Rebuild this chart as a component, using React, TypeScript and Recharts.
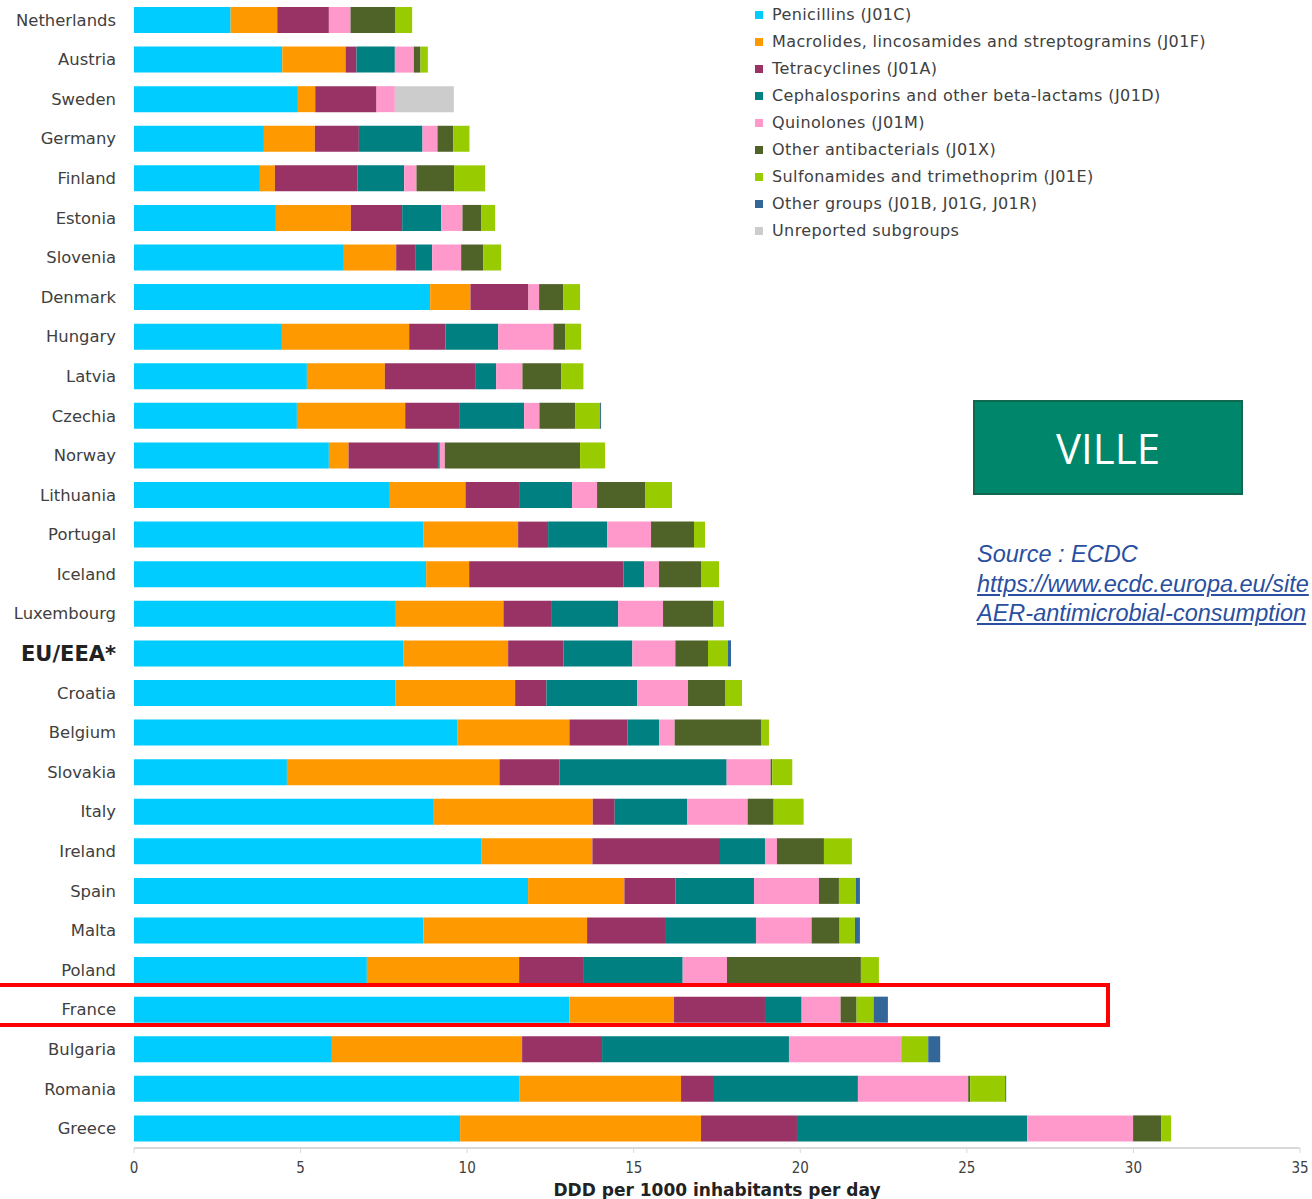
import React from "react";
import { BarChart, Bar, XAxis, YAxis, Legend } from "recharts";

const countries = [
  "Netherlands", "Austria", "Sweden", "Germany", "Finland", "Estonia", "Slovenia",
  "Denmark", "Hungary", "Latvia", "Czechia", "Norway", "Lithuania", "Portugal",
  "Iceland", "Luxembourg", "EU/EEA*", "Croatia", "Belgium", "Slovakia", "Italy",
  "Ireland", "Spain", "Malta", "Poland", "France", "Bulgaria", "Romania", "Greece",
];

const penicillins = [2.9, 4.45, 4.92, 3.9, 3.78, 4.26, 6.3, 8.89, 4.44, 5.19, 4.89, 5.85, 7.68, 8.68, 8.77, 7.86, 8.08, 7.84, 9.7, 4.59, 9.0, 10.42, 11.83, 8.69, 6.99, 13.07, 5.94, 11.56, 9.79];
const macrolides = [1.4, 1.9, 0.52, 1.53, 0.45, 2.25, 1.57, 1.21, 3.82, 2.34, 3.25, 0.59, 2.27, 2.85, 1.29, 3.23, 3.15, 3.6, 3.37, 6.38, 4.77, 3.34, 2.89, 4.91, 4.57, 3.14, 5.71, 4.86, 7.23];
const tetracyclines = [1.55, 0.33, 1.84, 1.32, 2.48, 1.54, 0.57, 1.74, 1.09, 2.71, 1.62, 2.69, 1.61, 0.9, 4.63, 1.43, 1.66, 0.94, 1.74, 1.8, 0.66, 3.83, 1.53, 2.34, 1.92, 2.73, 2.4, 0.96, 2.88];
const cephalosporins = [0, 1.15, 0, 1.91, 1.4, 1.17, 0.51, 0, 1.58, 0.63, 1.95, 0.05, 1.59, 1.77, 0.62, 2.01, 2.07, 2.72, 0.95, 5.02, 2.18, 1.35, 2.36, 2.73, 2.99, 1.1, 5.61, 4.35, 6.91];
const quinolones = [0.65, 0.57, 0.55, 0.45, 0.37, 0.64, 0.87, 0.32, 1.66, 0.79, 0.46, 0.15, 0.75, 1.32, 0.45, 1.35, 1.29, 1.53, 0.47, 1.32, 1.81, 0.36, 1.95, 1.67, 1.33, 1.17, 3.37, 3.31, 3.18];
const otherAntibacterials = [1.35, 0.2, 0, 0.47, 1.13, 0.57, 0.66, 0.72, 0.36, 1.17, 1.07, 4.06, 1.44, 1.29, 1.26, 1.5, 0.98, 1.11, 2.59, 0.05, 0.78, 1.41, 0.6, 0.84, 4.02, 0.48, 0, 0.06, 0.84];
const sulfonamides = [0.5, 0.22, 0, 0.49, 0.93, 0.41, 0.54, 0.51, 0.47, 0.66, 0.75, 0.75, 0.81, 0.33, 0.54, 0.33, 0.6, 0.51, 0.24, 0.6, 0.9, 0.84, 0.51, 0.46, 0.54, 0.51, 0.81, 1.05, 0.3];
const otherGroups = [0, 0, 0, 0, 0, 0, 0, 0, 0, 0, 0.03, 0, 0, 0, 0, 0, 0.09, 0, 0, 0, 0, 0, 0.12, 0.15, 0, 0.43, 0.36, 0.03, 0];
const unreported = [0, 0, 1.77, 0, 0, 0, 0, 0, 0, 0, 0, 0, 0, 0, 0, 0, 0, 0, 0, 0, 0, 0, 0, 0, 0, 0, 0, 0, 0];

const xTicks = [0, 5, 10, 15, 20, 25, 30, 35];

const series = [
  { key: "penicillins", name: "Penicillins (J01C)", color: "#00ccff", values: penicillins },
  { key: "macrolides", name: "Macrolides, lincosamides and streptogramins (J01F)", color: "#ff9900", values: macrolides },
  { key: "tetracyclines", name: "Tetracyclines (J01A)", color: "#993366", values: tetracyclines },
  { key: "cephalosporins", name: "Cephalosporins and other beta-lactams (J01D)", color: "#008080", values: cephalosporins },
  { key: "quinolones", name: "Quinolones (J01M)", color: "#ff99cc", values: quinolones },
  { key: "otherAntibacterials", name: "Other antibacterials (J01X)", color: "#4f6228", values: otherAntibacterials },
  { key: "sulfonamides", name: "Sulfonamides and trimethoprim (J01E)", color: "#99cc00", values: sulfonamides },
  { key: "otherGroups", name: "Other groups (J01B, J01G, J01R)", color: "#336699", values: otherGroups },
  { key: "unreported", name: "Unreported subgroups", color: "#cccccc", values: unreported },
];

const data = countries.map((country, i) => {
  const row: Record<string, any> = { country };
  series.forEach((s) => {
    row[s.key] = s.values[i];
  });
  return row;
});

const labelFont = "'DejaVu Sans', Verdana, sans-serif";

const CountryTick = (props: any) => {
  const { x, y, payload } = props;
  const isEu = payload.value === "EU/EEA*";
  return (
    <text
      x={x}
      y={y}
      dy="0.36em"
      textAnchor="end"
      fontFamily={labelFont}
      fontSize={isEu ? 21 : 16.4}
      fontWeight={isEu ? "bold" : "normal"}
      fill={isEu ? "#222" : "#404040"}
    >
      {payload.value}
    </text>
  );
};

const renderLegend = () => (
  <div style={{ fontFamily: labelFont, fontSize: 16, letterSpacing: 0.4, color: "#404040" }}>
    {series.map((s) => (
      <div key={s.key} style={{ display: "flex", alignItems: "center", height: 27, whiteSpace: "nowrap" }}>
        <span style={{ display: "inline-block", width: 8, height: 8, marginLeft: 3, marginRight: 9, background: s.color }} />
        {s.name}
      </div>
    ))}
  </div>
);

export default function App() {
  return (
    <div style={{ position: "fixed", left: 0, top: 0, width: 1312, height: 1199, overflow: "hidden", background: "#fff" }}>
      <BarChart
        width={1312}
        height={1199}
        data={data}
        layout="vertical"
        margin={{ top: 0, right: 12, bottom: 0, left: 0 }}
      >
        <XAxis
          type="number"
          domain={[0, 35]}
          ticks={xTicks}
          height={51}
          tickSize={5}
          tickMargin={9}
          axisLine={{ stroke: "#d9d9d9", strokeWidth: 2 }}
          tickLine={{ stroke: "#d9d9d9" }}
          tick={{ fill: "#404040", fontSize: 15, fontFamily: "'DejaVu Sans Condensed', 'DejaVu Sans', sans-serif" }}
          label={{
            value: "DDD per 1000 inhabitants per day",
            position: "insideBottom",
            offset: 3,
            style: { fill: "#222", fontSize: 17, fontWeight: "bold", fontFamily: labelFont },
          }}
        />
        <YAxis
          type="category"
          dataKey="country"
          width={134}
          interval={0}
          tickLine={false}
          axisLine={false}
          tickSize={6}
          tickMargin={12}
          tick={<CountryTick />}
        />
        <Legend
          layout="vertical"
          align="center"
          verticalAlign="middle"
          wrapperStyle={{ top: 1, left: 752, width: 540 }}
          content={renderLegend}
        />
        {series.map((s) => (
          <Bar
            key={s.key}
            dataKey={s.key}
            name={s.name}
            stackId="a"
            fill={s.color}
            barSize={26}
            isAnimationActive={false}
          />
        ))}
      </BarChart>

      <div
        style={{
          position: "absolute",
          left: 973,
          top: 400,
          width: 266,
          height: 91,
          border: "2px solid #10694f",
          background: "#00866a",
          color: "#fff",
          display: "flex",
          alignItems: "center",
          justifyContent: "center",
          fontFamily: "'Open Sans', sans-serif",
          fontSize: 42,
        }}
      >
        VILLE
      </div>

      <div
        style={{
          position: "absolute",
          left: 977,
          top: 540,
          fontFamily: "'Liberation Sans', Arial, sans-serif",
          fontStyle: "italic",
          fontSize: 23.5,
          lineHeight: "29.5px",
          color: "#2a4fa0",
          whiteSpace: "nowrap",
        }}
      >
        <div>Source : ECDC</div>
        <div style={{ textDecoration: "underline" }}>https://www.ecdc.europa.eu/site</div>
        <div style={{ textDecoration: "underline" }}>AER-antimicrobial-consumption</div>
      </div>

      <div
        style={{
          position: "absolute",
          left: -10,
          top: 983,
          width: 1112,
          height: 36,
          border: "4px solid #ff0000",
          pointerEvents: "none",
        }}
      />
    </div>
  );
}
